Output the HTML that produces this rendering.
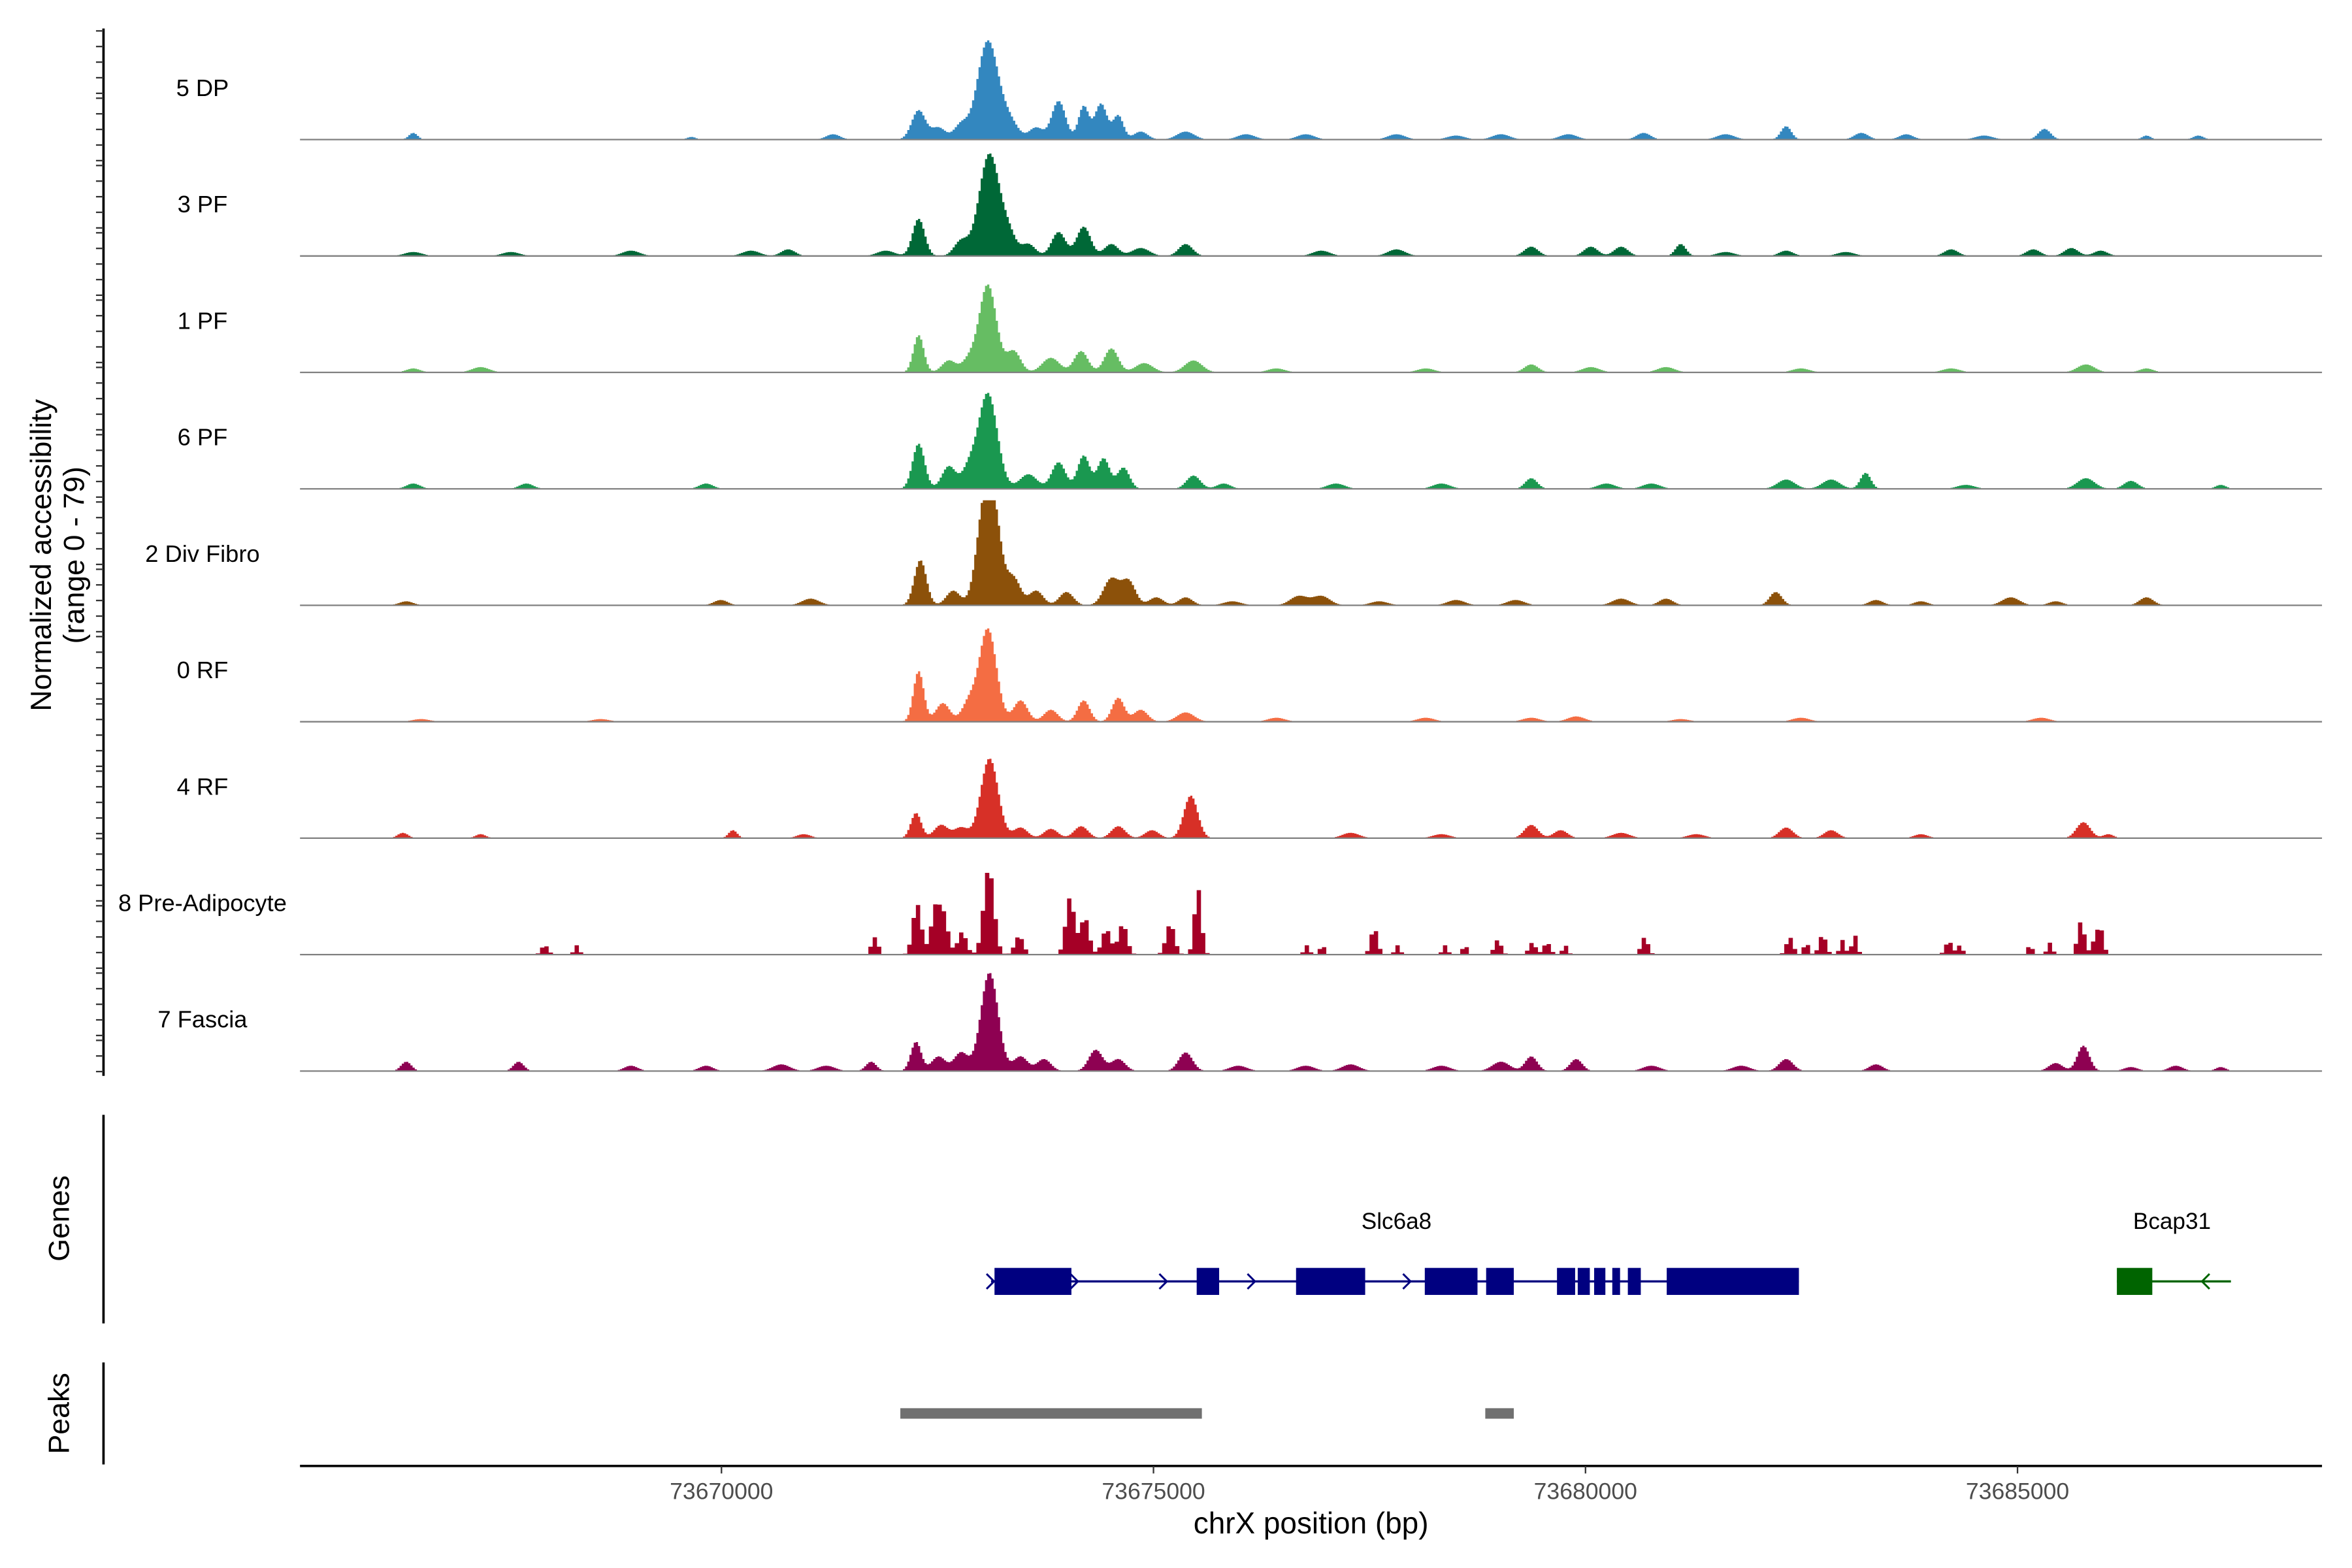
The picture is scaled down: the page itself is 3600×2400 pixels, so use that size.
<!DOCTYPE html>
<html><head><meta charset="utf-8"><style>
html,body{margin:0;padding:0;background:#fff}
svg{display:block;font-family:"Liberation Sans",Arial,sans-serif}
</style></head><body>
<svg id="chart" xmlns="http://www.w3.org/2000/svg" width="3600" height="2400" viewBox="0 0 1568 1045" preserveAspectRatio="none">
<rect width="1568" height="1045" fill="#fff"/>
<g id="tracks"></g>
<g id="leftaxis"></g>
<g id="genes"></g>
<g id="peaks"></g>
<g id="xaxis"></g>
</svg>
<script>
// ---- data ----
const trackNames = ["5 DP","3 PF","1 PF","6 PF","2 Div Fibro","0 RF","4 RF","8 Pre-Adipocyte","7 Fascia"];
const trackColors = ["#3387bf","#006837","#66bd63","#1a9850","#8c510a","#f46d43","#d73027","#a50026","#8e0152"];
// peaks: [position (kb from 73,660,000), value (0-79), sigma kb]
const peaks5DP = [[13.07,74,0.12],[12.27,22,0.08],[12.50,9,0.08],[12.76,11,0.08],[13.32,13,0.1],[13.63,9,0.08],[13.89,29,0.08],[14.18,25,0.06],[14.38,27,0.07],[14.58,18,0.06],[14.84,6,0.08],[15.36,6,0.1],[16.06,4,0.1],[16.75,4,0.1],[22.31,10,0.06],[25.30,8,0.07],[6.42,5,0.05],[11.28,4,0.08],[19.79,4,0.1],[20.66,5,0.08],[21.61,4,0.1],[23.70,4,0.08],[27.08,3,0.06],[9.64,2,0.05],[23.18,5,0.08],[17.80,4,0.1],[18.49,3,0.1],[19.01,4,0.1],[24.60,3,0.1],[26.48,3,0.05]];
const peaks3PF = [[13.09,77,0.12],[12.27,28,0.07],[12.76,11,0.08],[13.32,13,0.08],[13.54,9,0.08],[13.89,18,0.08],[14.18,22,0.08],[14.50,9,0.08],[15.36,9,0.08],[14.84,6,0.1],[8.94,4,0.1],[10.33,4,0.1],[10.76,5,0.08],[11.89,4,0.1],[16.93,4,0.1],[17.80,5,0.1],[19.36,7,0.08],[20.05,7,0.08],[20.40,7,0.08],[21.09,9,0.06],[21.61,3,0.1],[22.31,4,0.08],[23.00,3,0.1],[24.22,5,0.08],[25.17,5,0.08],[25.61,6,0.08],[25.95,4,0.08],[6.42,3,0.1],[7.55,3,0.1]];
const peaks1PF = [[13.07,66,0.1],[12.27,28,0.06],[12.62,9,0.08],[12.85,9,0.08],[13.37,16,0.08],[13.80,11,0.1],[14.15,16,0.08],[14.50,18,0.08],[14.88,7,0.1],[15.45,9,0.1],[7.20,4,0.1],[19.36,6,0.08],[20.05,4,0.1],[20.92,4,0.1],[25.78,6,0.1],[26.48,3,0.08],[6.42,3,0.08],[16.41,3,0.1],[18.14,3,0.1],[22.48,3,0.1],[24.22,3,0.1]];
const peaks6PF = [[13.07,72,0.11],[12.27,34,0.07],[12.62,17,0.08],[12.85,14,0.08],[13.54,11,0.1],[13.89,20,0.08],[14.18,25,0.07],[14.41,23,0.07],[14.64,16,0.07],[15.45,10,0.08],[15.80,4,0.08],[23.23,12,0.06],[19.36,8,0.07],[22.31,7,0.1],[22.83,7,0.1],[25.78,8,0.1],[26.30,6,0.08],[6.42,4,0.08],[7.73,4,0.08],[9.81,4,0.08],[17.10,4,0.1],[18.32,4,0.1],[20.23,4,0.1],[20.75,4,0.1],[24.39,3,0.1],[27.34,3,0.06]];
const peaks2DivFibro = [[13.02,60,0.09],[13.14,62,0.09],[12.29,34,0.07],[12.67,11,0.08],[13.37,20,0.08],[13.63,11,0.08],[13.98,10,0.08],[14.50,20,0.09],[14.70,18,0.08],[15.02,6,0.08],[15.36,6,0.08],[16.67,7,0.1],[16.93,7,0.1],[18.49,4,0.1],[22.19,10,0.07],[24.91,6,0.1],[26.48,6,0.08],[6.34,3,0.08],[9.98,4,0.08],[11.02,5,0.1],[19.18,4,0.1],[20.40,5,0.1],[20.92,5,0.08],[23.35,4,0.08],[23.87,3,0.08],[25.43,3,0.08],[17.60,3,0.1],[15.90,3,0.1]];
const peaks0RF = [[13.07,70,0.1],[12.27,38,0.06],[12.55,14,0.08],[12.85,14,0.08],[13.45,16,0.08],[13.80,9,0.08],[14.18,16,0.07],[14.58,18,0.07],[14.84,9,0.08],[15.36,7,0.1],[19.88,4,0.1],[19.36,3,0.1],[25.26,3,0.1],[16.41,3,0.1],[8.59,2,0.1],[6.51,2,0.1],[22.48,3,0.1],[18.14,3,0.1],[21.09,2,0.1]];
const peaks4RF = [[13.09,60,0.1],[12.24,19,0.06],[12.53,10,0.08],[12.76,8,0.08],[13.45,8,0.08],[13.80,7,0.08],[14.15,9,0.08],[14.58,9,0.08],[15.42,32,0.08],[14.97,6,0.08],[19.36,10,0.08],[19.70,6,0.08],[22.31,8,0.08],[22.83,6,0.08],[25.75,12,0.08],[26.04,3,0.06],[10.12,6,0.05],[6.30,4,0.06],[7.20,3,0.06],[10.94,3,0.08],[17.27,4,0.1],[18.32,3,0.1],[20.40,4,0.1],[21.27,3,0.1],[23.87,3,0.08]];
const peaksPreAdipocyte = [[13.07,65,0.06],[12.24,38,0.05],[12.45,34,0.05],[12.55,28,0.05],[12.76,17,0.05],[13.42,14,0.05],[14.01,43,0.05],[14.18,28,0.05],[14.43,19,0.05],[14.62,23,0.05],[15.17,23,0.05],[15.49,50,0.04],[7.93,7,0.04],[8.30,7,0.03],[11.75,13,0.04],[16.75,7,0.03],[16.93,7,0.03],[17.53,20,0.04],[17.80,7,0.03],[18.35,7,0.03],[18.58,7,0.03],[18.96,11,0.04],[19.36,9,0.04],[19.53,9,0.04],[19.74,7,0.03],[20.66,13,0.04],[22.34,13,0.04],[22.53,9,0.03],[22.72,15,0.04],[22.95,11,0.03],[23.09,15,0.03],[24.18,10,0.04],[24.31,7,0.03],[25.12,7,0.03],[25.35,9,0.03],[25.71,25,0.04],[25.89,16,0.04],[25.95,13,0.03]];
const peaks7Fascia = [[13.09,74,0.1],[12.24,22,0.06],[12.50,11,0.08],[12.76,14,0.08],[13.45,11,0.08],[13.72,9,0.08],[14.32,16,0.08],[14.58,9,0.08],[15.36,14,0.08],[6.34,7,0.06],[7.64,7,0.06],[8.94,4,0.08],[9.81,4,0.08],[10.68,5,0.1],[11.20,4,0.1],[11.72,7,0.06],[15.97,4,0.1],[16.75,4,0.1],[17.27,5,0.1],[19.36,11,0.07],[19.88,9,0.07],[19.01,7,0.1],[22.31,9,0.08],[21.79,4,0.1],[23.35,5,0.08],[25.75,19,0.07],[25.43,6,0.08],[26.30,3,0.08],[26.82,4,0.08],[27.34,3,0.06],[20.75,4,0.1],[18.32,4,0.1]];
const trackPeaks = [peaks5DP,peaks3PF,peaks1PF,peaks6PF,peaks2DivFibro,peaks0RF,peaks4RF,peaksPreAdipocyte,peaks7Fascia];
const xTicks = [73670000,73675000,73680000,73685000];
// Slc6a8 exons [startKb, endKb]
const slcExons = [[13.16,14.05],[15.50,15.76],[16.65,17.45],[18.14,18.75],[18.85,19.17],[19.67,19.88],[19.91,20.05],[20.10,20.23],[20.31,20.40],[20.49,20.64],[20.94,22.47]];
const slcSpan = [13.12,22.47];
const slcArrows = [13.12,14.09,15.12,16.14,17.94];
const bcapExons = [[26.15,26.56]];
const bcapSpan = [26.15,27.47];
const bcapArrows = [27.17];
const peakRegions = [[12.07,15.56],[18.84,19.17]];

// ---- scales ----
const X0 = 200, X1 = 1548, BP0 = 73665122, BP1 = 73688524;
function xs(bp){ return X0 + (bp-BP0)/(BP1-BP0)*(X1-X0); }
function xk(kb){ return xs(73660000 + kb*1000); }
const baseY0 = 93, trackStep = 77.6, yMax = 79, pxPerUnit = 70/79;
function ys(i,v){ return baseY0 + i*trackStep - Math.min(v,yMax)*pxPerUnit; }
const NS = "http://www.w3.org/2000/svg";
function mk(tag, attrs, parent){ const e=document.createElementNS(NS,tag); for(const k in attrs) e.setAttribute(k,attrs[k]); parent.appendChild(e); return e; }

// ---- tracks ----
const gT = document.getElementById('tracks');
trackNames.forEach((name,i)=>{
  const g = mk('g',{},gT);
  
  
  const step = (i===7) ? 0.05 : 0.025;
  const startKb = 6.2, endKb = 27.45;
  const base = baseY0 + i*trackStep;
  let d = `M${xk(startKb)},${base}`;
  for(let kb=startKb; kb<=endKb; kb+=step){
    let v=0;
    trackPeaks[i].forEach(p=>{ const z=(kb-p[0])/p[2]; v+=p[1]*Math.exp(-0.5*z*z); });
    if(v<0.6) v=0;
    const y = ys(i,v);
    d += `L${xk(kb)},${y}L${xk(kb+step)},${y}`;
  }
  d += `L${xk(endKb)},${base}Z`;
  const area = mk('path',{d:d,fill:trackColors[i],stroke:'none'},g);
  
  
  const bl = mk('line',{x1:X0,x2:X1,y1:base,y2:base,stroke:'#808080','stroke-width':1},g);
  
  
  const t = mk('text',{x:135,y:base-29,'text-anchor':'middle','font-size':15.8,fill:'#000'},g);
  t.textContent = name;
  
  
});

// ---- left axis ----
const gL = document.getElementById('leftaxis');
const ax = mk('line',{x1:69,x2:69,y1:19,y2:717,stroke:'#000','stroke-width':1.6},gL);


for(let p=0;p<16;p++){
  [0,10.4,20.8,31.2,41.6].forEach(o=>{
    const y=12.6+p*44.85+o+8;
    if(y>19 && y<717){
      const tk = mk('line',{x1:64,x2:69,y1:y,y2:y,stroke:'#333','stroke-width':1},gL);
      
      
    }
  });
}
const yt = mk('text',{transform:'translate(34,370) rotate(-90)','text-anchor':'middle','font-size':19.5,fill:'#000'},gL);


const ts1 = mk('tspan',{x:0,dy:0},yt); ts1.textContent='Normalized accessibility';
const ts2 = mk('tspan',{x:0,dy:22},yt); ts2.textContent='(range 0 - 79)';

// ---- genes ----
const gG = document.getElementById('genes');
const gl = mk('line',{x1:69,x2:69,y1:743,y2:882,stroke:'#000','stroke-width':1.6},gG);


const gtt = mk('text',{transform:'translate(46,812) rotate(-90)','text-anchor':'middle','font-size':19.5,fill:'#000'},gG);
gtt.textContent='Genes';


function drawGene(nm, span, exons, arrows, dir, color, labelX){
  const g = mk('g',{},gG);
  
  
  mk('line',{x1:xk(span[0]),x2:xk(span[1]),y1:854,y2:854,stroke:color,'stroke-width':1.5},g);
  exons.forEach(e=>{
    const r = mk('rect',{x:xk(e[0]),y:845,width:xk(e[1])-xk(e[0]),height:18,fill:color},g);
    
    
  });
  arrows.forEach(a=>{
    const x=xk(a);
    const d = dir>0 ? `M${x-3},${849}L${x+2},854L${x-3},859` : `M${x+3},${849}L${x-2},854L${x+3},859`;
    mk('path',{d:d,fill:'none',stroke:color,'stroke-width':1.3},g);
  });
  const t = mk('text',{x:labelX,y:819,'text-anchor':'middle','font-size':15.3,fill:'#000'},g);
  t.textContent = nm;
  
  
}
drawGene('Slc6a8', slcSpan, slcExons, slcArrows, 1, '#000080', 931);
drawGene('Bcap31', bcapSpan, bcapExons, bcapArrows, -1, '#006400', 1448);

// ---- peaks ----
const gP = document.getElementById('peaks');
const pl = mk('line',{x1:69,x2:69,y1:908,y2:976,stroke:'#000','stroke-width':1.6},gP);


const ptt = mk('text',{transform:'translate(46,942) rotate(-90)','text-anchor':'middle','font-size':19.5,fill:'#000'},gP);
ptt.textContent='Peaks';


peakRegions.forEach(p=>{
  const r = mk('rect',{x:xk(p[0]),y:938.5,width:xk(p[1])-xk(p[0]),height:7,fill:'#707070'},gP);
  
  
});

// ---- x axis ----
const gX = document.getElementById('xaxis');
const xl = mk('line',{x1:X0,x2:X1,y1:977,y2:977,stroke:'#000','stroke-width':1.6},gX);


xTicks.forEach(v=>{
  const x=xs(v);
  const tk = mk('line',{x1:x,x2:x,y1:977,y2:982,stroke:'#333','stroke-width':1},gX);
  
  
  const t = mk('text',{x:x,y:999,'text-anchor':'middle','font-size':15.5,fill:'#4d4d4d'},gX);
  t.textContent = String(v);
  
  
});
const xt = mk('text',{x:874,y:1022,'text-anchor':'middle','font-size':20,fill:'#000'},gX);
xt.textContent='chrX position (bp)';


</script>
</body></html>
